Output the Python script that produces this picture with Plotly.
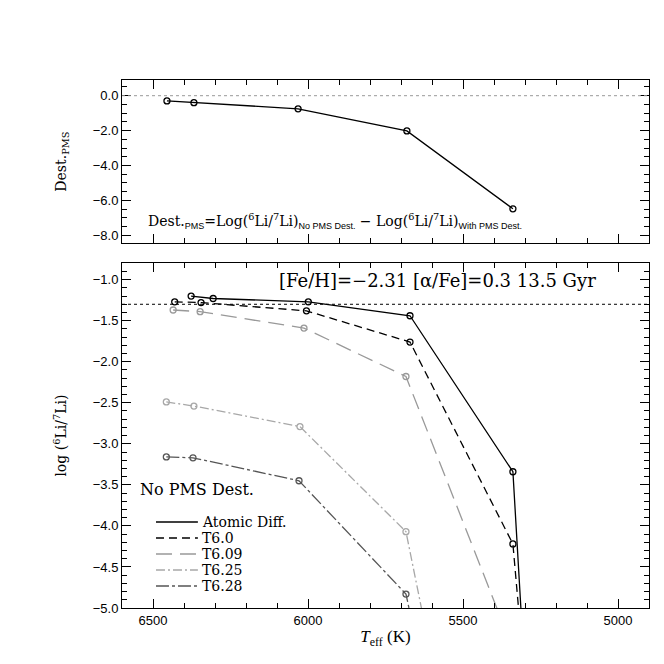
import plotly.graph_objects as go
from plotly.subplots import make_subplots

# top panel: PMS destruction
top_teff = [6455, 6368, 6032, 5681, 5339]
top_dest = [-0.30, -0.40, -0.75, -2.02, -6.48]

# bottom panel: log(6Li/7Li) for each model
atomic_teff = [6377, 6306, 5999, 5671, 5339, 5290]
atomic_li = [-1.20, -1.23, -1.27, -1.44, -3.34, -6.5]

t60_teff = [6430, 6345, 6005, 5671, 5339, 5300]
t60_li = [-1.27, -1.28, -1.38, -1.76, -4.22, -5.9]

t609_teff = [6435, 6348, 6013, 5684, 5339]
t609_li = [-1.37, -1.39, -1.59, -2.18, -5.5]

t625_teff = [6457, 6368, 6026, 5684, 5610]
t625_li = [-2.49, -2.54, -2.79, -4.07, -5.45]

t628_teff = [6457, 6371, 6029, 5684, 5640]
t628_li = [-3.16, -3.17, -3.45, -4.83, -5.6]

model_names = ["Atomic Diff.", "T6.0", "T6.09", "T6.25", "T6.28"]

serif = "DejaVu Serif"
serif2 = "Liberation Serif"
sans = "Liberation Sans"

series = [
    (atomic_teff, atomic_li, "black", "solid"),
    (t60_teff, t60_li, "black", "8px,5px"),
    (t609_teff, t609_li, "#999999", "16px,8px"),
    (t625_teff, t625_li, "#a8a8a8", "9px,3px,2px,3px"),
    (t628_teff, t628_li, "#555555", "13px,3px,3px,3px"),
]

fig = make_subplots(rows=2, cols=1, vertical_spacing=0.0)

fig.add_trace(go.Scatter(x=top_teff, y=top_dest, mode="lines+markers",
                         line=dict(color="black", width=1.3),
                         marker=dict(symbol="circle-open", size=6, color="black", line=dict(width=1.3)),
                         showlegend=False), row=1, col=1)

for (xs, ys, col, dash), name in zip(series, model_names):
    fig.add_trace(go.Scatter(x=xs, y=ys, mode="lines+markers", name=name,
                             line=dict(color=col, width=1.3, dash=dash),
                             marker=dict(symbol="circle-open", size=6, color=col, line=dict(width=1.3)),
                             showlegend=False), row=2, col=1)

# hand-made legend (line sample + label)
leg_top = 0.163
leg_step = 0.0303
for i, ((xs, ys, col, dash), name) in enumerate(zip(series, model_names)):
    yy = leg_top - i * leg_step
    fig.add_shape(type="line", xref="paper", yref="paper", x0=0.0645, x1=0.144, y0=yy, y1=yy,
                  line=dict(color=col, width=1.5, dash=dash))
    fig.add_annotation(x=0.148, y=yy, xref="paper", yref="paper", xanchor="left", yanchor="middle",
                       showarrow=False, text=name, font=dict(family=serif, size=14, color="black"))

xax = dict(range=[6600, 4900], showgrid=False, zeroline=False, ticks="inside", ticklen=9,
           tickwidth=1, tickcolor="black", linecolor="black", linewidth=1, mirror="ticks",
           dtick=500, tick0=5000,
           minor=dict(dtick=100, ticks="inside", ticklen=5, tickcolor="black"))
fig.update_xaxes(**xax)
fig.update_xaxes(showticklabels=False, row=1, col=1)
fig.update_xaxes(tickfont=dict(family=sans, size=13, color="black"),
                 title=dict(text="<i>T</i><sub>eff</sub> (K)", font=dict(family=serif2, size=17, color="black"),
                            standoff=3), row=2, col=1)

yax = dict(showgrid=False, zeroline=False, ticks="inside", ticklen=9, tickwidth=1, tickcolor="black",
           linecolor="black", linewidth=1, mirror="ticks",
           tickfont=dict(family=sans, size=13, color="black"))
fig.update_yaxes(**yax)
fig.update_yaxes(range=[-8.45, 0.9], dtick=2, tick0=0, tickformat=".1f",
                 minor=dict(dtick=0.5, ticks="inside", ticklen=5, tickcolor="black"),
                 title=dict(text="Dest.<sub>PMS</sub>", font=dict(family=serif, size=14, color="black"), standoff=22),
                 row=1, col=1)
fig.update_yaxes(range=[-5.0, -0.8], dtick=0.5, tick0=-5, tickformat=".1f",
                 minor=dict(dtick=0.1, ticks="inside", ticklen=5, tickcolor="black"),
                 title=dict(text="log (<sup>6</sup>Li/<sup>7</sup>Li)", font=dict(family=serif, size=14, color="black"),
                            standoff=22),
                 row=2, col=1)

fig.update_layout(
    yaxis=dict(domain=[0.691, 1.0]),
    yaxis2=dict(domain=[0.0, 0.653]),
)

# reference lines
fig.add_hline(y=0.0, line=dict(color="#999999", width=1, dash="dot"), row=1, col=1)
fig.add_hline(y=-1.3, line=dict(color="black", width=1, dash="dot"), row=2, col=1)

sub = '<sub><span style="font-family:Liberation Sans;font-size:9px">{}</span></sub>'
fig.add_annotation(x=0.045, y=0.06, xref="x domain", yref="y domain", xanchor="left", yanchor="bottom",
                   showarrow=False,
                   text="Dest." + sub.format("PMS") + "=Log(<sup>6</sup>Li/<sup>7</sup>Li)" + sub.format("No PMS Dest.")
                        + " − Log(<sup>6</sup>Li/<sup>7</sup>Li)" + sub.format("With PMS Dest."),
                   font=dict(family=serif, size=14, color="black"))
fig.add_annotation(x=0.903, y=0.985, xref="x2 domain", yref="y2 domain", xanchor="right", yanchor="top",
                   showarrow=False, text="[Fe/H]=−2.31 [α/Fe]=0.3 13.5 Gyr",
                   font=dict(family=serif, size=18, color="black"))
fig.add_annotation(x=0.03, y=0.31, xref="x2 domain", yref="y2 domain", xanchor="left", yanchor="bottom",
                   showarrow=False, text="No PMS Dest.",
                   font=dict(family=serif, size=16, color="black"))

fig.update_layout(
    width=664, height=664,
    margin=dict(l=114, r=23, t=72, b=64),
    plot_bgcolor="white", paper_bgcolor="white",
    showlegend=False,
)

fig.write_html("out.html")
